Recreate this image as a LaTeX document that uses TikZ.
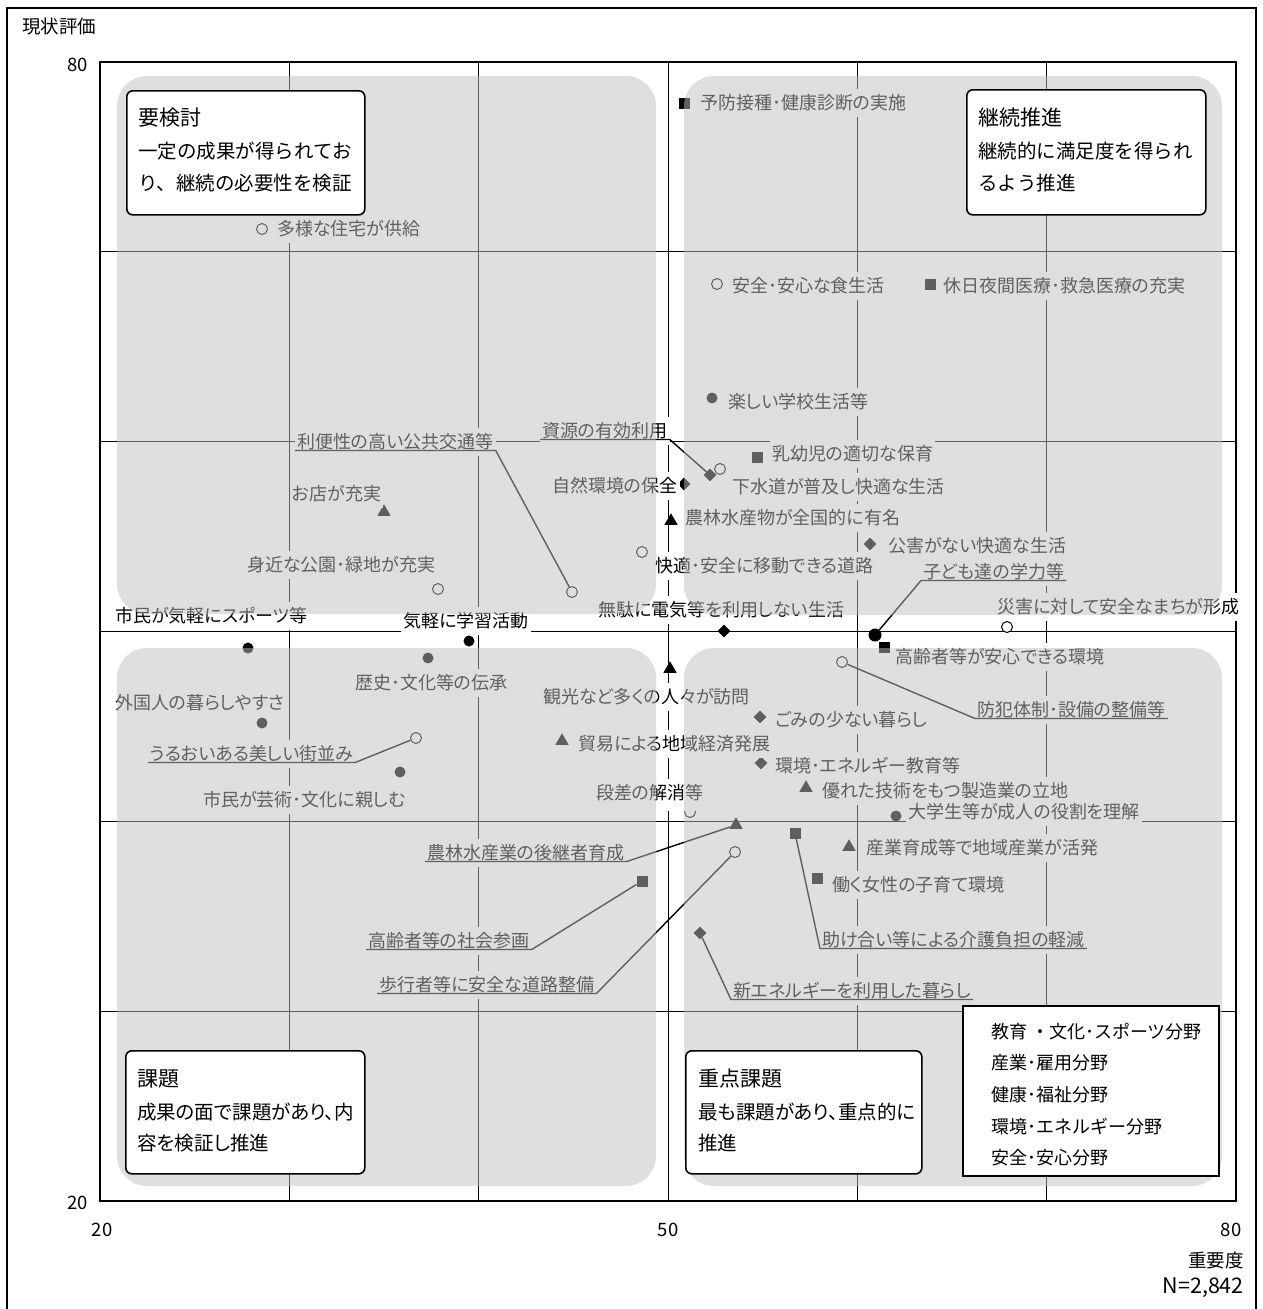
\documentclass[tikz,border=0pt]{standalone}
\usepackage{fontspec}
\setmainfont{Noto Sans CJK JP}
\newfontfamily\jp{Noto Sans CJK JP}[RawFeature=+palt]
\newfontfamily\jpm{Noto Sans CJK JP}
\usetikzlibrary{shapes.geometric,calc}
\definecolor{ovlc}{rgb}{0.75,0.75,0.75}
\newcommand\lbfont{\jp\fontsize{18}{21}\selectfont}
\tikzset{
  lab/.style={font=\lbfont, anchor=west, fill=white, inner xsep=2pt, inner ysep=5pt, text height=15pt, text depth=3pt},
  mc/.style={circle, fill=black, minimum size=11pt, inner sep=0pt},
  mo/.style={circle, draw=black, fill=white, line width=1pt, minimum size=11pt, inner sep=0pt},
  mt/.style={regular polygon, regular polygon sides=3, fill=black, minimum size=15.5pt, inner sep=0pt},
  ms/.style={rectangle, fill=black, minimum size=11pt, inner sep=0pt},
  md/.style={diamond, fill=black, minimum size=13pt, inner sep=0pt},
  lead/.style={line width=1.4pt},
  gridl/.style={line width=0.9pt},
  axisfifty/.style={line width=1.0pt},
  framel/.style={line width=1.3pt},
  qshade/.style={fill=ovlc, fill opacity=0.5, rounded corners=30pt},
  qbox/.style={draw=black, fill=white, line width=1.6pt, rounded corners=6pt},
  btitle/.style={anchor=west, inner sep=0pt, font=\jpm\fontsize{21}{24}\selectfont},
  bodym/.style={anchor=west, inner sep=0pt, font=\jpm\fontsize{19.5}{22}\selectfont},
  bodyp/.style={anchor=west, inner sep=0pt, font=\jp\fontsize{19.5}{22}\selectfont},
  legt/.style={anchor=west, inner sep=0pt, font=\jpm\fontsize{18}{21}\selectfont},
  axt/.style={inner sep=0pt, font=\jp\fontsize{18.5}{21}\selectfont}
}
\begin{document}
\begin{tikzpicture}[x=1pt,y=-1pt]
\useasboundingbox (0,0) rectangle (1263,1309);
% outer border
\draw[line width=1.2pt] (7,1320) -- (7,8) -- (1256,8) -- (1256,1320);
% grid
\foreach \gx in {289.3,478.7,857.3,1046.7} \draw[gridl] (\gx,62) -- (\gx,1201);
\foreach \gy in {251.8,441.6,821.4,1011.2} \draw[gridl] (100,\gy) -- (1236,\gy);
\draw[axisfifty] (668,62) -- (668,1201);
\draw[axisfifty] (100,631.5) -- (1236,631.5);
\draw[framel] (100,62) rectangle (1236,1201);

% markers
\node[ms] (m1) at (684,103) {};
\node[mo] (m2) at (262,229) {};
\node[mo] (m3) at (717,284) {};
\node[ms] (m4) at (930,284) {};
\node[mc] (m5) at (712,398) {};
\node[ms] (m6) at (757,457) {};
\node[md] (m7) at (710,475) {};
\node[mo] (m8) at (720,469) {};
\node[md] (m9) at (684,484) {};
\node[mt] (m10) at (671,521) {};
\node[md] (m11) at (870,544) {};
\node[mo] (m12) at (642,552) {};
\node[mo] (m13) at (438,589) {};
\node[mo] (m14) at (572,592) {};
\node[mt] (m15) at (384,512) {};
\node[mc] (m16) at (248,648) {};
\node[mc] (m17) at (469,641) {};
\node[md] (m18) at (724,631) {};
\node[mc, minimum size=13pt] (m19) at (875,635) {};
\node[mo] (m20) at (1007,627) {};
\node[ms] (m21) at (884,647) {};
\node[mo] (m22) at (842,662) {};
\node[mc] (m23) at (262,723) {};
\node[mc] (m24) at (428,658) {};
\node[mo] (m25) at (416,738) {};
\node[mc] (m26) at (400,772) {};
\node[mt] (m27) at (670,669) {};
\node[md] (m28) at (760,717) {};
\node[mt] (m29) at (562,741) {};
\node[md] (m30) at (761,763) {};
\node[mt] (m31) at (806,788) {};
\node[mo] (m32) at (690,812) {};
\node[mc] (m33) at (896,816) {};
\node[mt] (m34) at (736,825) {};
\node[mt] (m35) at (849,847) {};
\node[mo] (m36) at (735,852) {};
\node[ms] (m37) at (642,881) {};
\node[ms] (m38) at (817,878) {};
\node[ms] (m39) at (795,833) {};
\node[md] (m40) at (700,933) {};

% labels
\node[lab] (l1) at (698,103) {予防接種･健康診断の実施};
\node[lab] (l2) at (275,229) {多様な住宅が供給};
\node[lab] (l3) at (730,286) {安全･安心な食生活};
\node[lab] (l4) at (941,286) {休日夜間医療･救急医療の充実};
\node[lab] (l5) at (726,402) {楽しい学校生活等};
\node[lab] (l6) at (770,454) {乳幼児の適切な保育};
\node[lab] (l7) at (540,431) {資源の有効利用};
\node[lab] (l8) at (730,487) {下水道が普及し快適な生活};
\node[lab] (l9) at (550,486) {自然環境の保全};
\node[lab] (l10) at (683,518) {農林水産物が全国的に有名};
\node[lab] (l11) at (886,546) {公害がない快適な生活};
\node[lab] (l12) at (653,566) {快適･安全に移動できる道路};
\node[lab] (l13) at (245,565) {身近な公園･緑地が充実};
\node[lab] (l14) at (295,442) {利便性の高い公共交通等};
\node[lab] (l15) at (290,494) {お店が充実};
\node[lab] (l16) at (113,616) {市民が気軽にスポーツ等};
\node[lab] (l17) at (401,621) {気軽に学習活動};
\node[lab] (l18) at (596,610) {無駄に電気等を利用しない生活};
\node[lab] (l19) at (921,572) {子ども達の学力等};
\node[lab] (l20) at (995,607) {災害に対して安全なまちが形成};
\node[lab] (l21) at (893,657) {高齢者等が安心できる環境};
\node[lab] (l22) at (975,710) {防犯体制･設備の整備等};
\node[lab] (l23) at (113,703) {外国人の暮らしやすさ};
\node[lab] (l24) at (353,683) {歴史･文化等の伝承};
\node[lab] (l25) at (148,754) {うるおいある美しい街並み};
\node[lab] (l26) at (201,800) {市民が芸術･文化に親しむ};
\node[lab] (l27) at (541,697) {観光など多くの人々が訪問};
\node[lab] (l28) at (773,720) {ごみの少ない暮らし};
\node[lab] (l29) at (576,744) {貿易による地域経済発展};
\node[lab] (l30) at (773,766) {環境･エネルギー教育等};
\node[lab] (l31) at (820,791) {優れた技術をもつ製造業の立地};
\node[lab, anchor=base west, text depth=7pt] (l32) at (594,799) {段差の解消等};
\node[lab] (l33) at (906,812) {大学生等が成人の役割を理解};
\node[lab] (l34) at (425,853) {農林水産業の後継者育成};
\node[lab] (l35) at (864,848) {産業育成等で地域産業が活発};
\node[lab] (l36) at (377,985) {歩行者等に安全な道路整備};
\node[lab] (l37) at (366,941) {高齢者等の社会参画};
\node[lab] (l38) at (830,885) {働く女性の子育て環境};
\node[lab] (l39) at (820,940) {助け合い等による介護負担の軽減};
\node[lab] (l40) at (731,991) {新エネルギーを利用した暮らし};

% underlines and leaders
\draw[lead] ($(l7.base west)+(0,2.5)$) -- ($(l7.base east)+(0,2.5)$) -- (m7);
\draw[lead] ($(l14.base west)+(0,2.5)$) -- ($(l14.base east)+(0,2.5)$) -- (m14);
\draw[lead] (m19) -- ($(l19.base west)+(0,2.5)$) -- ($(l19.base east)+(0,2.5)$);
\draw[lead] (m22) -- ($(l22.base west)+(0,2.5)$) -- ($(l22.base east)+(0,2.5)$);
\draw[lead] ($(l25.base west)+(0,2.5)$) -- ($(l25.base east)+(0,2.5)$) -- (m25);
\draw[lead] ($(l34.base west)+(0,2.5)$) -- ($(l34.base east)+(0,2.5)$) -- (m34);
\draw[lead] ($(l36.base west)+(0,2.5)$) -- ($(l36.base east)+(0,2.5)$) -- (m36);
\draw[lead] ($(l37.base west)+(0,2.5)$) -- ($(l37.base east)+(0,2.5)$) -- (m37);
\draw[lead] (m39) -- ($(l39.base west)+(0,2.5)$) -- ($(l39.base east)+(0,2.5)$);
\draw[lead] (m40) -- ($(l40.base west)+(0,2.5)$) -- ($(l40.base east)+(0,2.5)$);

% translucent quadrant shading
\fill[qshade] (117,76) rectangle (656,614);
\fill[qshade] (684,76) rectangle (1222,615);
\fill[qshade] (117,648) rectangle (656,1186);
\fill[qshade] (684,648) rectangle (1222,1186);

% quadrant boxes
\node[qbox, anchor=north west, minimum width=238pt, minimum height=124pt] (b1) at (126,90) {};
\node[btitle] (b1t) at (138,118) {要検討};
\node[bodym] (b1a) at (138,151) {一定の成果が得られてお};
\node[bodym] (b1b) at (138,183) {り、継続の必要性を検証};

\node[qbox, anchor=north west, minimum width=239pt, minimum height=125pt] (b2) at (966,89) {};
\node[btitle] (b2t) at (978,118) {継続推進};
\node[bodym] (b2a) at (978,151) {継続的に満足度を得られ};
\node[bodym] (b2b) at (978,183) {るよう推進};

\node[qbox, anchor=north west, minimum width=239pt, minimum height=123pt] (b3) at (125,1050) {};
\node[btitle] (b3t) at (137,1079) {課題};
\node[bodyp] (b3a) at (137,1112) {成果の面で課題があり、内};
\node[bodyp] (b3b) at (137,1143) {容を検証し推進};

\node[qbox, anchor=north west, minimum width=236pt, minimum height=123pt] (b4) at (685,1050) {};
\node[btitle] (b4t) at (698,1079) {重点課題};
\node[bodyp] (b4a) at (698,1112) {最も課題があり、重点的に};
\node[bodyp] (b4b) at (698,1143) {推進};

% legend
\node[draw=black, fill=white, line width=1.5pt, anchor=north west, minimum width=256pt, minimum height=170pt, inner sep=0pt] (leg) at (962,1005) {};
\node[legt] (lg1) at (991,1032) {教育 ・文化･スポーツ分野};
\node[legt] (lg2) at (991,1063) {産業･雇用分野};
\node[legt] (lg3) at (991,1095) {健康･福祉分野};
\node[legt] (lg4) at (991,1127) {環境･エネルギー分野};
\node[legt] (lg5) at (991,1158) {安全･安心分野};

% axis texts
\node[axt, anchor=west] (yt) at (22,27) {現状評価};
\node[axt, anchor=east] (y80) at (88,65) {80};
\node[axt, anchor=east] (y20) at (88,1203) {20};
\node[axt] (x20) at (102,1230) {20};
\node[axt] (x50) at (668,1230) {50};
\node[axt] (x80) at (1231,1230) {80};
\node[axt, anchor=east] (xt) at (1244,1260) {重要度};
\node[axt, anchor=east, font=\jp\fontsize{21.5}{24}\selectfont] (nn) at (1244,1288) {N=2,842};
\end{tikzpicture}
\end{document}
